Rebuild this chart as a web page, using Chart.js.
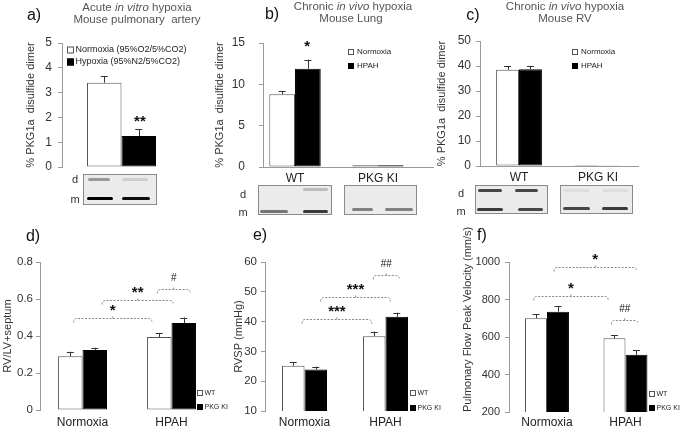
<!DOCTYPE html>
<html><head><meta charset="utf-8">
<script src="https://cdn.jsdelivr.net/npm/chart.js@4"></script>
<style>
body{margin:0;width:685px;height:426px;background:#fff;position:relative;overflow:hidden;font-family:"Liberation Sans",Arial,sans-serif}
canvas{position:absolute;left:0;top:0;pointer-events:none}
.c{position:absolute;transform:translate(-50%,-50%);white-space:nowrap}
.ttl{font-size:11.5px;color:#555}
.let{font-size:16px;color:#111}
.bl{font-size:11px;color:#333}
.blot{position:absolute;border:1px solid #8a8a8a;background:#ebebeb;box-sizing:border-box}
.band{position:absolute;height:3px;border-radius:2px;filter:blur(0.5px)}
</style></head><body>
<script>
// ---------------- data ----------------
const aGroups = [''];
const aNormoxia = [3.4],  aNormoxiaErr = [0.27];
const aHypoxia  = [1.25], aHypoxiaErr  = [0.27];

const bGroups = ['WT', 'PKG KI'];
const bNormoxia = [8.8, 0.2],  bNormoxiaErr = [0.4, 0];
const bHPAH     = [11.9, 0.2], bHPAHErr     = [1.1, 0];

const cGroups = ['WT', 'PKG KI'];
const cNormoxia = [38.5, 0.4], cNormoxiaErr = [1.5, 0];
const cHPAH     = [38.7, 0.3], cHPAHErr     = [1.4, 0];

const lowerGroups = ['Normoxia', 'HPAH'];
const dWT = [0.29, 0.395],  dWTErr = [0.025, 0.02];
const dKI = [0.325, 0.47],  dKIErr = [0.012, 0.03];
const eWT = [25.2, 35.1],   eWTErr = [1.1, 1.5];
const eKI = [23.9, 41.6],   eKIErr = [1.0, 1.4];
const fWT = [700, 593],     fWTErr = [22, 18];
const fKI = [735, 505],     fKIErr = [30, 25];

// significance brackets: [from x, to x, y value, label]
const dBrackets = [[-0.1, 0.78, 0.497, '*'], [0.22, 1.02, 0.595, '**'], [0.84, 1.21, 0.654, '#']];
const eBrackets = [[-0.03, 0.83, 40.9, '***'], [0.2, 1.06, 48.3, '***'], [0.85, 1.17, 55.6, '##']];
const fBrackets = [[-0.17, 0.78, 819, '*'], [0.09, 1.14, 973, '*'], [0.82, 1.16, 691, '##']];
const aNotes = [[0.155, 2.02, '**']];
const bNotes = [[0.145, 15.1, '*']];

// ---------------- drawing ----------------
Chart.defaults.font.family = '"Liberation Sans", Arial, sans-serif';
Chart.defaults.color = '#333';

const WHITE = {fill: '#ffffff', stroke: '#555555'};
const BLACK = {fill: '#000000', stroke: '#000000'};

function drawMark(ctx, x, cy, text) {
  const isHash = text[0] === '#';
  const size = isHash ? 10 : 15;
  ctx.font = (isHash ? '' : 'bold ') + size + 'px "Liberation Sans", Arial, sans-serif';
  ctx.fillStyle = '#111';
  ctx.textAlign = 'center';
  ctx.textBaseline = 'alphabetic';
  ctx.fillText(text, x, cy + (isHash ? 0.36 : 0.58) * size);
}

function extras(p) {
  return {
    id: 'extras',
    afterDatasetsDraw(chart) {
      const ctx = chart.ctx, xs = chart.scales.x, ys = chart.scales.y;
      ctx.save();
      // error bars
      chart.data.datasets.forEach((ds, i) => {
        const meta = chart.getDatasetMeta(i);
        meta.data.forEach((el, j) => {
          const e = ds.err[j];
          if (!e) return;
          const v = ds.data[j].y;
          const yt = ys.getPixelForValue(v + e);
          ctx.strokeStyle = '#333'; ctx.lineWidth = 1; ctx.setLineDash([]);
          ctx.beginPath();
          ctx.moveTo(Math.round(el.x) + 0.5, el.y); ctx.lineTo(Math.round(el.x) + 0.5, yt);
          ctx.moveTo(el.x - 3.5, Math.round(yt) + 0.5); ctx.lineTo(el.x + 3.5, Math.round(yt) + 0.5);
          ctx.stroke();
        });
      });
      // brackets
      (p.brackets || []).forEach(b => {
        const x0 = xs.getPixelForValue(b[0]), x1 = xs.getPixelForValue(b[1]);
        const y = Math.round(ys.getPixelForValue(b[2])) + 0.5, xm = (x0 + x1) / 2;
        ctx.strokeStyle = '#8a8a8a'; ctx.lineWidth = 1; ctx.setLineDash([2, 1.5]);
        ctx.beginPath();
        ctx.moveTo(x0, y + 4); ctx.quadraticCurveTo(x0, y, x0 + 3, y); ctx.lineTo(x1 - 3, y);
        ctx.quadraticCurveTo(x1, y, x1, y + 4);
        ctx.moveTo(xm, y); ctx.lineTo(xm, y - 3);
        ctx.stroke();
        ctx.setLineDash([]);
        drawMark(ctx, xm, y - 12, b[3]);
      });
      (p.notes || []).forEach(n => {
        drawMark(ctx, xs.getPixelForValue(n[0]), ys.getPixelForValue(n[1]), n[2]);
      });
      // legend
      const L = p.legend;
      chart.data.datasets.forEach((ds, i) => {
        const cy = L.y + i * L.dy;
        ctx.setLineDash([]);
        ctx.fillStyle = ds.backgroundColor; ctx.strokeStyle = ds.borderColor; ctx.lineWidth = 1;
        ctx.fillRect(L.x, cy - L.box / 2, L.box, L.box);
        ctx.strokeRect(L.x + 0.5, cy - L.box / 2 + 0.5, L.box - 1, L.box - 1);
        ctx.fillStyle = '#222';
        ctx.font = L.size + 'px "Liberation Sans", Arial, sans-serif';
        ctx.textAlign = 'left'; ctx.textBaseline = 'middle';
        ctx.fillText(ds.label, L.x + L.box + (L.gap || 1.5), cy);
      });
      ctx.restore();
    }
  };
}

function panel(p) {
  const cv = document.createElement('canvas');
  cv.width = 685; cv.height = 426;
  document.body.appendChild(cv);
  const datasets = p.series.map(s => ({
    label: s.label,
    data: s.values.map((v, i) => ({x: i, y: v})),
    err: s.err,
    backgroundColor: s.style.fill,
    borderColor: s.style.stroke,
    borderWidth: 1,
    borderSkipped: false,
    categoryPercentage: p.cp,
    barPercentage: 1
  }));
  new Chart(cv, {
    type: 'bar',
    data: {datasets},
    options: {
      responsive: false, animation: false, events: [],
      layout: {padding: {left: p.yLeft, top: p.area.T, right: 685 - p.area.R, bottom: 426 - p.area.B - p.xH}},
      plugins: {legend: {display: false}, tooltip: {enabled: false}},
      scales: {
        x: {
          type: 'linear', min: p.xMin, max: p.xMax, offset: false, bounds: 'data',
          afterBuildTicks: s => { s.ticks = p.groups.map((g, i) => ({value: i})); },
          afterFit: s => { s.height = p.xH; },
          grid: {display: false, drawTicks: false, offset: false},
          border: {display: p.xBorder, color: '#9a9a9a'},
          ticks: {display: p.showX, padding: p.xPad || 4, color: '#222', font: {size: 12},
                  autoSkip: false, maxRotation: 0,
                  callback: (v) => p.groups[Math.round(v)] ?? ''}
        },
        y: {
          min: p.y[0], max: p.y[1],
          afterFit: s => { s.width = p.area.L - p.yLeft; },
          ticks: {stepSize: p.y[2], padding: p.tickPad, color: '#333', font: {size: p.tickSize || 12},
                  callback: (v) => String(+v.toFixed(3))},
          grid: {drawOnChartArea: false, tickLength: 4, color: '#9a9a9a'},
          border: {color: '#9a9a9a'},
          title: {display: true, text: p.yTitle, padding: 0, color: '#333', font: {size: 11},
                  align: p.titleAlign || 'center'}
        }
      }
    },
    plugins: [extras(p)]
  });
}

const PKG_TITLE = '% PKG1a  disulfide dimer';

panel({groups: aGroups, area: {L: 62, T: 43, R: 181, B: 167}, yLeft: 24, xH: 0, xMin: -0.5, xMax: 0.5,
  cp: 0.58, y: [0, 5, 1], tickPad: 6, showX: false, xBorder: false, yTitle: PKG_TITLE,
  series: [{label: 'Normoxia (95%O2/5%CO2)', values: aNormoxia, err: aNormoxiaErr, style: WHITE},
           {label: 'Hypoxia (95%N2/5%CO2)', values: aHypoxia, err: aHypoxiaErr, style: BLACK}],
  legend: {x: 67, y: 50, dy: 12, box: 7, size: 9}, notes: aNotes});

panel({groups: bGroups, area: {L: 263, T: 43, R: 433, B: 167}, yLeft: 213, xH: 20, xPad: 4,
  xMin: -0.386, xMax: 1.663, cp: 0.62, y: [0, 15, 5], tickPad: 14, showX: true, xBorder: true, yTitle: PKG_TITLE,
  series: [{label: 'Normoxia', values: bNormoxia, err: bNormoxiaErr, style: WHITE},
           {label: 'HPAH', values: bHPAH, err: bHPAHErr, style: BLACK}],
  legend: {x: 348, y: 52, dy: 14, box: 6, size: 8, gap: 3}, notes: bNotes});

panel({groups: cGroups, area: {L: 480, T: 41, R: 638, B: 166}, yLeft: 435, xH: 20, xPad: 4,
  xMin: -0.494, xMax: 1.506, cp: 0.58, y: [0, 50, 10], tickPad: 5, showX: true, xBorder: true, yTitle: PKG_TITLE,
  series: [{label: 'Normoxia', values: cNormoxia, err: cNormoxiaErr, style: WHITE},
           {label: 'HPAH', values: cHPAH, err: cHPAHErr, style: BLACK}],
  legend: {x: 572, y: 52, dy: 14, box: 6, size: 8, gap: 3}});

panel({groups: lowerGroups, area: {L: 40, T: 262, R: 216, B: 410}, yLeft: 1, xH: 16, xPad: 5,
  xMin: -0.478, xMax: 1.5, cp: 0.55, y: [0, 0.8, 0.2], tickPad: 3, tickSize: 11.5, showX: true, xBorder: false,
  yTitle: 'RV/LV+septum',
  series: [{label: 'WT', values: dWT, err: dWTErr, style: WHITE},
           {label: 'PKG KI', values: dKI, err: dKIErr, style: BLACK}],
  legend: {x: 197, y: 393, dy: 14, box: 6, size: 7}, brackets: dBrackets});

panel({groups: lowerGroups, area: {L: 265, T: 262, R: 425, B: 411}, yLeft: 232, xH: 15, xPad: 4,
  xMin: -0.488, xMax: 1.488, cp: 0.556, y: [10, 60, 10], tickPad: 4, tickSize: 11.5, showX: true, xBorder: false,
  yTitle: 'RVSP (mmHg)',
  series: [{label: 'WT', values: eWT, err: eWTErr, style: WHITE},
           {label: 'PKG KI', values: eKI, err: eKIErr, style: BLACK}],
  legend: {x: 410, y: 393, dy: 15, box: 6, size: 7}, brackets: eBrackets});

panel({groups: lowerGroups, area: {L: 509, T: 262, R: 663, B: 412}, yLeft: 461, xH: 14, xPad: 3,
  xMin: -0.484, xMax: 1.478, cp: 0.56, y: [200, 1000, 200], tickPad: 5, tickSize: 11, showX: true, xBorder: false,
  yTitle: 'Pulmonary Flow Peak Velocity (mm/s)', titleAlign: 'start',
  series: [{label: 'WT', values: fWT, err: fWTErr, style: WHITE},
           {label: 'PKG KI', values: fKI, err: fKIErr, style: BLACK}],
  legend: {x: 649, y: 394, dy: 14, box: 6, size: 7}, brackets: fBrackets});

// ---------------- text and blot images (layout) ----------------
function label(cls, x, y, html) {
  const d = document.createElement('div');
  d.className = 'c ' + cls; d.style.left = x + 'px'; d.style.top = y + 'px'; d.innerHTML = html;
  document.body.appendChild(d);
}
label('ttl', 137, 7, 'Acute <i>in vitro</i> hypoxia');
label('ttl', 137, 19, 'Mouse pulmonary&nbsp; artery');
label('ttl', 353, 6, 'Chronic <i>in vivo</i> hypoxia');
label('ttl', 351, 18, 'Mouse Lung');
label('ttl', 565, 6, 'Chronic <i>in vivo</i> hypoxia');
label('ttl', 565, 18, 'Mouse RV');
label('let', 34, 15, 'a)'); label('let', 272, 14, 'b)'); label('let', 473, 15, 'c)');
label('let', 33, 236, 'd)'); label('let', 260, 235, 'e)'); label('let', 482, 235, 'f)');
label('bl', 75, 179, 'd'); label('bl', 75, 199, 'm');
label('bl', 243, 194, 'd'); label('bl', 243, 212, 'm');
label('bl', 461, 193, 'd'); label('bl', 461, 211, 'm');

const blotBoxes = [[83, 174, 74, 31], [258, 185, 74, 30], [344, 185, 73, 30], [475, 185, 73, 29], [560, 185, 73, 29]];
const blotBands = [
  [88, 179, 22, 0.35], [122, 179, 26, 0.12], [87, 198, 26, 1.0], [122, 198, 28, 0.95],
  [303, 189, 25, 0.2], [260, 211, 28, 0.5], [303, 211, 25, 0.75],
  [352, 209, 21, 0.45], [385, 209, 28, 0.45],
  [478, 190, 24, 0.7], [515, 190, 23, 0.7], [477, 209, 26, 0.75], [518, 209, 25, 0.7],
  [563, 190, 27, 0.06], [602, 190, 26, 0.06], [563, 208, 27, 0.7], [602, 208, 26, 0.75]
];
blotBoxes.forEach(b => {
  const d = document.createElement('div'); d.className = 'blot';
  Object.assign(d.style, {left: b[0] + 'px', top: b[1] + 'px', width: b[2] + 'px', height: b[3] + 'px'});
  document.body.appendChild(d);
});
blotBands.forEach(b => {
  const d = document.createElement('div'); d.className = 'band';
  Object.assign(d.style, {left: b[0] + 'px', top: (b[1] - 1.5) + 'px', width: b[2] + 'px', background: 'rgba(0,0,0,' + b[3] + ')'});
  document.body.appendChild(d);
});
</script>
</body></html>
